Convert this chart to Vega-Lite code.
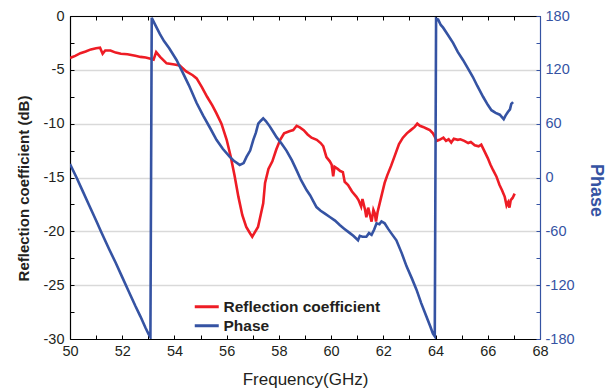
{
  "$schema": "https://vega.github.io/schema/vega-lite/v6.json",
  "width": 470,
  "height": 323,
  "autosize": "none",
  "padding": {"left": 70, "top": 16, "right": 67, "bottom": 53},
  "background": "white",
  "config": {
    "view": {"stroke": null},
    "font": "Liberation Sans",
    "axis": {"labelFont": "Liberation Sans", "titleFont": "Liberation Sans", "labelFontSize": 14.5, "labelColor": "#231F20", "domainColor": "#000000", "tickColor": "#000000", "domainWidth": 1.2, "gridColor": "#D9D9D9", "gridWidth": 1.5},
    "legend": {"labelFont": "Liberation Sans"}
  },
  "datasets": {
    "refl": [
      {"f": 50.0, "v": -3.9}, {"f": 50.2, "v": -3.7}, {"f": 50.4, "v": -3.45}, {"f": 50.6, "v": -3.3}, {"f": 50.8, "v": -3.1},
      {"f": 51.0, "v": -3.0}, {"f": 51.15, "v": -2.95}, {"f": 51.25, "v": -3.5}, {"f": 51.35, "v": -3.2}, {"f": 51.55, "v": -3.2},
      {"f": 51.75, "v": -3.4}, {"f": 51.95, "v": -3.5}, {"f": 52.2, "v": -3.55}, {"f": 52.5, "v": -3.7}, {"f": 52.7, "v": -3.8},
      {"f": 52.9, "v": -3.85}, {"f": 53.05, "v": -3.95}, {"f": 53.2, "v": -4.05}, {"f": 53.3, "v": -3.35}, {"f": 53.45, "v": -3.8},
      {"f": 53.7, "v": -4.4}, {"f": 54.0, "v": -4.5}, {"f": 54.2, "v": -4.6}, {"f": 54.45, "v": -5.15}, {"f": 54.7, "v": -5.5},
      {"f": 54.85, "v": -5.8}, {"f": 55.05, "v": -6.6}, {"f": 55.25, "v": -7.5}, {"f": 55.45, "v": -8.3}, {"f": 55.6, "v": -9.0},
      {"f": 55.8, "v": -10.0}, {"f": 56.0, "v": -11.5}, {"f": 56.15, "v": -13.0}, {"f": 56.3, "v": -14.8}, {"f": 56.45, "v": -16.8},
      {"f": 56.6, "v": -18.5}, {"f": 56.75, "v": -19.6}, {"f": 56.9, "v": -20.2}, {"f": 56.98, "v": -20.5}, {"f": 57.1, "v": -20.0},
      {"f": 57.2, "v": -19.6}, {"f": 57.3, "v": -18.5}, {"f": 57.4, "v": -17.4}, {"f": 57.47, "v": -15.5}, {"f": 57.6, "v": -14.2},
      {"f": 57.75, "v": -13.5}, {"f": 57.9, "v": -12.4}, {"f": 58.05, "v": -11.5}, {"f": 58.2, "v": -10.9}, {"f": 58.4, "v": -10.7},
      {"f": 58.55, "v": -10.6}, {"f": 58.68, "v": -10.2}, {"f": 58.8, "v": -10.35}, {"f": 58.95, "v": -10.6}, {"f": 59.1, "v": -11.0},
      {"f": 59.25, "v": -11.3}, {"f": 59.45, "v": -11.5}, {"f": 59.6, "v": -11.8}, {"f": 59.7, "v": -12.1}, {"f": 59.82, "v": -13.1},
      {"f": 59.95, "v": -13.5}, {"f": 60.02, "v": -13.8}, {"f": 60.08, "v": -14.9}, {"f": 60.13, "v": -14.0}, {"f": 60.25, "v": -14.2},
      {"f": 60.35, "v": -14.4}, {"f": 60.45, "v": -14.5}, {"f": 60.52, "v": -15.4}, {"f": 60.65, "v": -15.7}, {"f": 60.8, "v": -16.3},
      {"f": 60.97, "v": -16.8}, {"f": 61.05, "v": -17.1}, {"f": 61.15, "v": -17.7}, {"f": 61.2, "v": -17.0}, {"f": 61.3, "v": -18.0},
      {"f": 61.35, "v": -18.7}, {"f": 61.42, "v": -17.8}, {"f": 61.5, "v": -18.6}, {"f": 61.55, "v": -19.1}, {"f": 61.62, "v": -18.0},
      {"f": 61.67, "v": -18.3}, {"f": 61.72, "v": -19.1}, {"f": 61.78, "v": -18.2}, {"f": 61.86, "v": -17.4}, {"f": 61.95, "v": -16.5},
      {"f": 62.05, "v": -15.5}, {"f": 62.15, "v": -14.8}, {"f": 62.3, "v": -13.9}, {"f": 62.45, "v": -12.9}, {"f": 62.6, "v": -11.9},
      {"f": 62.75, "v": -11.3}, {"f": 62.9, "v": -10.9}, {"f": 63.05, "v": -10.6}, {"f": 63.2, "v": -10.3}, {"f": 63.3, "v": -10.0},
      {"f": 63.4, "v": -10.2}, {"f": 63.52, "v": -10.3}, {"f": 63.65, "v": -10.45}, {"f": 63.78, "v": -10.6}, {"f": 63.9, "v": -10.9},
      {"f": 63.97, "v": -11.2}, {"f": 64.05, "v": -11.6}, {"f": 64.15, "v": -11.5}, {"f": 64.3, "v": -11.3}, {"f": 64.4, "v": -11.6},
      {"f": 64.5, "v": -11.45}, {"f": 64.6, "v": -11.75}, {"f": 64.7, "v": -11.4}, {"f": 64.85, "v": -11.5}, {"f": 64.95, "v": -11.45},
      {"f": 65.1, "v": -11.6}, {"f": 65.25, "v": -11.8}, {"f": 65.35, "v": -11.7}, {"f": 65.5, "v": -12.0}, {"f": 65.65, "v": -12.1},
      {"f": 65.75, "v": -11.95}, {"f": 65.88, "v": -12.6}, {"f": 66.0, "v": -13.2}, {"f": 66.1, "v": -13.8}, {"f": 66.2, "v": -14.3},
      {"f": 66.33, "v": -14.9}, {"f": 66.45, "v": -15.7}, {"f": 66.55, "v": -16.2}, {"f": 66.65, "v": -16.8}, {"f": 66.72, "v": -17.6},
      {"f": 66.78, "v": -17.3}, {"f": 66.83, "v": -17.8}, {"f": 66.88, "v": -17.1}, {"f": 66.95, "v": -16.9}, {"f": 67.03, "v": -16.5}
    ],
    "phase": [
      {"f": 50.0, "p": 15}, {"f": 50.25, "p": 0}, {"f": 50.5, "p": -16}, {"f": 50.75, "p": -32}, {"f": 51.0, "p": -48},
      {"f": 51.2, "p": -61}, {"f": 51.5, "p": -80}, {"f": 51.75, "p": -95}, {"f": 52.0, "p": -111}, {"f": 52.25, "p": -127},
      {"f": 52.5, "p": -143}, {"f": 52.7, "p": -155}, {"f": 52.9, "p": -168}, {"f": 53.0, "p": -174}, {"f": 53.08, "p": -178},
      {"f": 53.13, "p": 178}, {"f": 53.25, "p": 171}, {"f": 53.44, "p": 160}, {"f": 53.6, "p": 152}, {"f": 53.8, "p": 144},
      {"f": 54.08, "p": 131}, {"f": 54.3, "p": 118}, {"f": 54.55, "p": 103}, {"f": 54.85, "p": 83}, {"f": 55.1, "p": 69},
      {"f": 55.35, "p": 56}, {"f": 55.61, "p": 42}, {"f": 55.85, "p": 32}, {"f": 56.12, "p": 23}, {"f": 56.3, "p": 18},
      {"f": 56.5, "p": 14}, {"f": 56.65, "p": 16}, {"f": 56.76, "p": 23}, {"f": 56.9, "p": 30}, {"f": 57.02, "p": 42},
      {"f": 57.12, "p": 50}, {"f": 57.21, "p": 60}, {"f": 57.3, "p": 63}, {"f": 57.4, "p": 66}, {"f": 57.5, "p": 63},
      {"f": 57.65, "p": 57}, {"f": 57.78, "p": 51}, {"f": 57.91, "p": 45}, {"f": 58.1, "p": 38}, {"f": 58.29, "p": 30},
      {"f": 58.5, "p": 19}, {"f": 58.68, "p": 8}, {"f": 58.85, "p": -3}, {"f": 59.06, "p": -14}, {"f": 59.2, "p": -20},
      {"f": 59.31, "p": -26}, {"f": 59.44, "p": -33}, {"f": 59.6, "p": -37}, {"f": 59.75, "p": -40}, {"f": 59.95, "p": -44},
      {"f": 60.15, "p": -48}, {"f": 60.33, "p": -53}, {"f": 60.5, "p": -57}, {"f": 60.72, "p": -62}, {"f": 60.85, "p": -65},
      {"f": 61.03, "p": -70}, {"f": 61.1, "p": -65}, {"f": 61.2, "p": -66}, {"f": 61.35, "p": -66}, {"f": 61.45, "p": -62},
      {"f": 61.55, "p": -64}, {"f": 61.65, "p": -58}, {"f": 61.74, "p": -51}, {"f": 61.85, "p": -52}, {"f": 61.93, "p": -49},
      {"f": 62.05, "p": -51}, {"f": 62.18, "p": -57}, {"f": 62.3, "p": -62}, {"f": 62.5, "p": -70}, {"f": 62.7, "p": -84},
      {"f": 62.89, "p": -99}, {"f": 63.1, "p": -113}, {"f": 63.27, "p": -125}, {"f": 63.45, "p": -140}, {"f": 63.65, "p": -155},
      {"f": 63.8, "p": -166}, {"f": 63.9, "p": -174}, {"f": 63.97, "p": -177}, {"f": 64.02, "p": 177}, {"f": 64.1, "p": 176},
      {"f": 64.2, "p": 170}, {"f": 64.29, "p": 167}, {"f": 64.45, "p": 160}, {"f": 64.67, "p": 150}, {"f": 64.85, "p": 140},
      {"f": 65.05, "p": 131}, {"f": 65.25, "p": 121}, {"f": 65.43, "p": 112}, {"f": 65.6, "p": 102}, {"f": 65.82, "p": 90},
      {"f": 66.0, "p": 81}, {"f": 66.14, "p": 75}, {"f": 66.3, "p": 72}, {"f": 66.46, "p": 70}, {"f": 66.55, "p": 67},
      {"f": 66.61, "p": 65}, {"f": 66.68, "p": 69}, {"f": 66.77, "p": 73}, {"f": 66.85, "p": 76}, {"f": 66.9, "p": 82},
      {"f": 66.97, "p": 84}
    ]
  },
  "layer": [
    {
      "data": {"name": "refl"},
      "mark": {"type": "line", "strokeWidth": 2.6, "clip": true},
      "encoding": {
        "x": {
          "field": "f", "type": "quantitative",
          "scale": {"domain": [50, 68], "nice": false, "zero": false},
          "axis": {
            "orient": "bottom", "title": "Frequency(GHz)", "titleFontSize": 17, "titleFontWeight": "normal", "titleColor": "#231F20", "titlePadding": 14,
            "values": [50,51,52,53,54,55,56,57,58,59,60,61,62,63,64,65,66,67,68],
            "labelExpr": "datum.value % 2 == 0 ? datum.label : ''",
            "tickSize": -4, "labelPadding": 9, "grid": false, "labelFlush": false
          }
        },
        "y": {
          "field": "v", "type": "quantitative",
          "scale": {"domain": [-30, 0], "nice": false, "zero": false},
          "axis": {
            "orient": "left", "title": "Reflection coefficient (dB)", "titleFontSize": 15, "titleFontWeight": "bold", "titleColor": "#231F20", "titlePadding": 12, "titleY": 172,
            "values": [-30,-27.5,-25,-22.5,-20,-17.5,-15,-12.5,-10,-7.5,-5,-2.5,0],
            "labelExpr": "datum.value % 5 == 0 ? '' + datum.value : ''",
            "tickSize": -4, "labelPadding": 10, "labelFlush": false,
            "grid": true,
            "gridOpacity": {"condition": {"test": "datum.value % 5 == 0 && datum.value > -30", "value": 1}, "value": 0}
          }
        },
        "color": {
          "datum": "Reflection coefficient",
          "type": "nominal",
          "scale": {"domain": ["Reflection coefficient", "Phase"], "range": ["#EE1C25", "#3553A3"]},
          "legend": {
            "orient": "none", "legendX": 129, "legendY": 283, "title": null,
            "symbolType": "M-2,0H2", "symbolSize": 144, "symbolStrokeWidth": 3,
            "labelFontSize": 15.5, "labelFontWeight": "bold", "labelColor": "#231F20", "labelOffset": 9, "rowPadding": 2
          }
        }
      }
    },
    {
      "data": {"name": "phase"},
      "mark": {"type": "line", "strokeWidth": 2.6, "clip": true},
      "encoding": {
        "x": {
          "field": "f", "type": "quantitative",
          "scale": {"domain": [50, 68], "nice": false, "zero": false},
          "axis": {
            "orient": "top", "title": null, "labels": false,
            "values": [50,51,52,53,54,55,56,57,58,59,60,61,62,63,64,65,66,67,68],
            "tickSize": -4, "grid": false
          }
        },
        "y": {
          "field": "p", "type": "quantitative",
          "scale": {"domain": [-180, 180], "nice": false, "zero": false},
          "axis": {
            "orient": "right", "title": "Phase", "titleFontSize": 18, "titleFontWeight": "bold", "titleColor": "#3553A3", "titlePadding": 12, "titleY": 174,
            "values": [-180,-150,-120,-90,-60,-30,0,30,60,90,120,150,180],
            "labelExpr": "datum.value % 60 == 0 ? '' + datum.value : ''",
            "tickSize": -4, "labelPadding": 9, "labelFlush": false,
            "labelColor": "#3553A3", "domainColor": "#3553A3", "tickColor": "#3553A3", "grid": false
          }
        },
        "color": {"datum": "Phase", "type": "nominal"}
      }
    }
  ],
  "resolve": {"scale": {"y": "independent"}, "axis": {"x": "independent"}}
}
